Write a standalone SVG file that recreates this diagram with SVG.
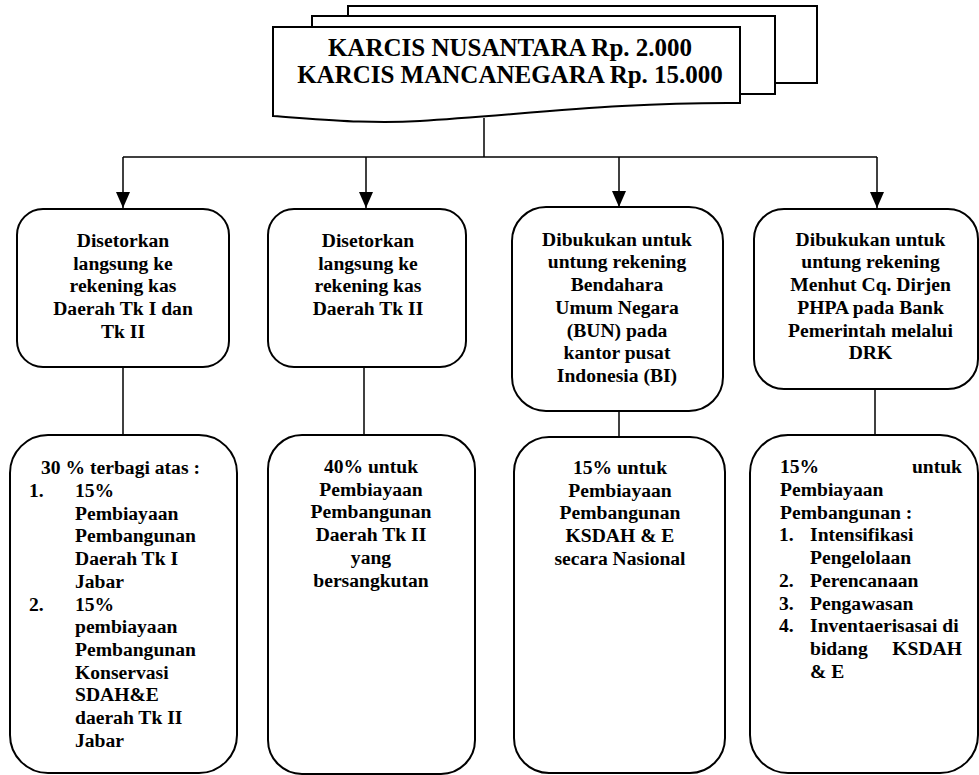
<svg xmlns="http://www.w3.org/2000/svg" width="979" height="775" viewBox="0 0 979 775">
<defs>
<marker id="ah" markerUnits="userSpaceOnUse" markerWidth="16" markerHeight="14" refX="16" refY="7" orient="auto" viewBox="0 0 16 14">
<path d="M0,0 L16,7 L0,14 Z" fill="#000"/>
</marker>
<style>
.box{fill:#fff;stroke:#000;stroke-width:2}
.ln{fill:none;stroke:#000;stroke-width:1.5}
text{font-family:"Liberation Serif","Times New Roman",serif;font-weight:bold;fill:#000}
.t{font-size:19.6px}
.c{text-anchor:middle}
.title{font-size:25px;text-anchor:middle}
</style>
</defs>
<rect width="979" height="775" fill="#fff"/>
<g id="connectors">
<path class="ln" d="M484,118 V157"/>
<path class="ln" d="M123,157 H877"/>
<path class="ln" d="M123,157 V208" marker-end="url(#ah)"/>
<path class="ln" d="M366,157 V208" marker-end="url(#ah)"/>
<path class="ln" d="M619,157 V207" marker-end="url(#ah)"/>
<path class="ln" d="M877,157 V208" marker-end="url(#ah)"/>
<path class="ln" d="M123,367 V435"/>
<path class="ln" d="M364,367 V435"/>
<path class="ln" d="M619,411 V437"/>
<path class="ln" d="M875,389 V435"/>
</g>
<g id="title">
<rect class="box" x="348" y="6" width="469" height="77"/>
<rect class="box" x="312" y="16" width="463" height="78"/>
<path class="box" d="M273,27 H740 V103 C620,102 520,115 420,121 C370,124 330,120 273,116 Z"/>
<text class="title" x="510" y="56">KARCIS NUSANTARA Rp. 2.000</text>
<text class="title" x="510" y="83">KARCIS MANCANEGARA Rp. 15.000</text>
</g>
<g id="n1">
<rect class="box" x="17" y="209" width="212" height="158" rx="26"/>
<text class="t c" x="123" y="247">Disetorkan</text>
<text class="t c" x="123" y="269.5">langsung ke</text>
<text class="t c" x="123" y="292">rekening kas</text>
<text class="t c" x="123" y="314.5">Daerah Tk I dan</text>
<text class="t c" x="123" y="337.5">Tk II</text>
</g>
<g id="n2">
<rect class="box" x="268" y="209" width="198" height="158" rx="26"/>
<text class="t c" x="368" y="247">Disetorkan</text>
<text class="t c" x="368" y="269.5">langsung ke</text>
<text class="t c" x="368" y="292">rekening kas</text>
<text class="t c" x="368" y="314.5">Daerah Tk II</text>
</g>
<g id="n3">
<rect class="box" x="512" y="207" width="211" height="204" rx="34"/>
<text class="t c" x="617" y="245.7">Dibukukan untuk</text>
<text class="t c" x="617" y="268.4">untung rekening</text>
<text class="t c" x="617" y="291.1">Bendahara</text>
<text class="t c" x="617" y="313.8">Umum Negara</text>
<text class="t c" x="617" y="336.5">(BUN) pada</text>
<text class="t c" x="617" y="359.2">kantor pusat</text>
<text class="t c" x="617" y="381.9">Indonesia (BI)</text>
</g>
<g id="n4">
<rect class="box" x="754" y="209" width="224" height="180" rx="30"/>
<text class="t c" x="870.5" y="245.7">Dibukukan untuk</text>
<text class="t c" x="870.5" y="268.4">untung rekening</text>
<text class="t c" x="870.5" y="291.1">Menhut Cq. Dirjen</text>
<text class="t c" x="870.5" y="313.8">PHPA pada Bank</text>
<text class="t c" x="870.5" y="336.5">Pemerintah melalui</text>
<text class="t c" x="870.5" y="359.2">DRK</text>
</g>
<g id="n5">
<rect class="box" x="10" y="435" width="227" height="338" rx="38"/>
<text class="t c" x="120.5" y="474">30 % terbagi atas :</text>
<text class="t" x="29" y="497">1.</text>
<text class="t" x="75" y="497">15%</text>
<text class="t" x="75" y="519.7">Pembiayaan</text>
<text class="t" x="75" y="542.4">Pembangunan</text>
<text class="t" x="75" y="565.1">Daerah Tk I</text>
<text class="t" x="75" y="587.8">Jabar</text>
<text class="t" x="29" y="610.5">2.</text>
<text class="t" x="75" y="610.5">15%</text>
<text class="t" x="75" y="633.2">pembiayaan</text>
<text class="t" x="75" y="655.9">Pembangunan</text>
<text class="t" x="75" y="678.6">Konservasi</text>
<text class="t" x="75" y="701.3">SDAH&amp;E</text>
<text class="t" x="75" y="724">daerah Tk II</text>
<text class="t" x="75" y="746.7">Jabar</text>
</g>
<g id="n6">
<rect class="box" x="268" y="435" width="207" height="339" rx="34"/>
<text class="t c" x="371" y="473">40% untuk</text>
<text class="t c" x="371" y="495.7">Pembiayaan</text>
<text class="t c" x="371" y="518.4">Pembangunan</text>
<text class="t c" x="371" y="541.1">Daerah Tk II</text>
<text class="t c" x="371" y="563.8">yang</text>
<text class="t c" x="371" y="586.5">bersangkutan</text>
</g>
<g id="n7">
<rect class="box" x="514" y="437" width="211" height="336" rx="35"/>
<text class="t c" x="620" y="474">15% untuk</text>
<text class="t c" x="620" y="496.7">Pembiayaan</text>
<text class="t c" x="620" y="519.4">Pembangunan</text>
<text class="t c" x="620" y="542.1">KSDAH &amp; E</text>
<text class="t c" x="620" y="564.8">secara Nasional</text>
</g>
<g id="n8">
<rect class="box" x="750" y="435" width="228" height="338" rx="38"/>
<text class="t" x="780" y="473.3">15%</text>
<text class="t" x="962" y="473.3" text-anchor="end">untuk</text>
<text class="t" x="780" y="496">Pembiayaan</text>
<text class="t" x="780" y="518.7">Pembangunan :</text>
<text class="t" x="779" y="541.4">1.</text>
<text class="t" x="810" y="541.4">Intensifikasi</text>
<text class="t" x="810" y="564.1">Pengelolaan</text>
<text class="t" x="779" y="586.8">2.</text>
<text class="t" x="810" y="586.8">Perencanaan</text>
<text class="t" x="779" y="609.5">3.</text>
<text class="t" x="810" y="609.5">Pengawasan</text>
<text class="t" x="779" y="632.2">4.</text>
<text class="t" x="810" y="632.2">Inventaerisasai di</text>
<text class="t" x="810" y="654.9">bidang</text>
<text class="t" x="962" y="654.9" text-anchor="end">KSDAH</text>
<text class="t" x="810" y="677.6">&amp; E</text>
</g>
</svg>
